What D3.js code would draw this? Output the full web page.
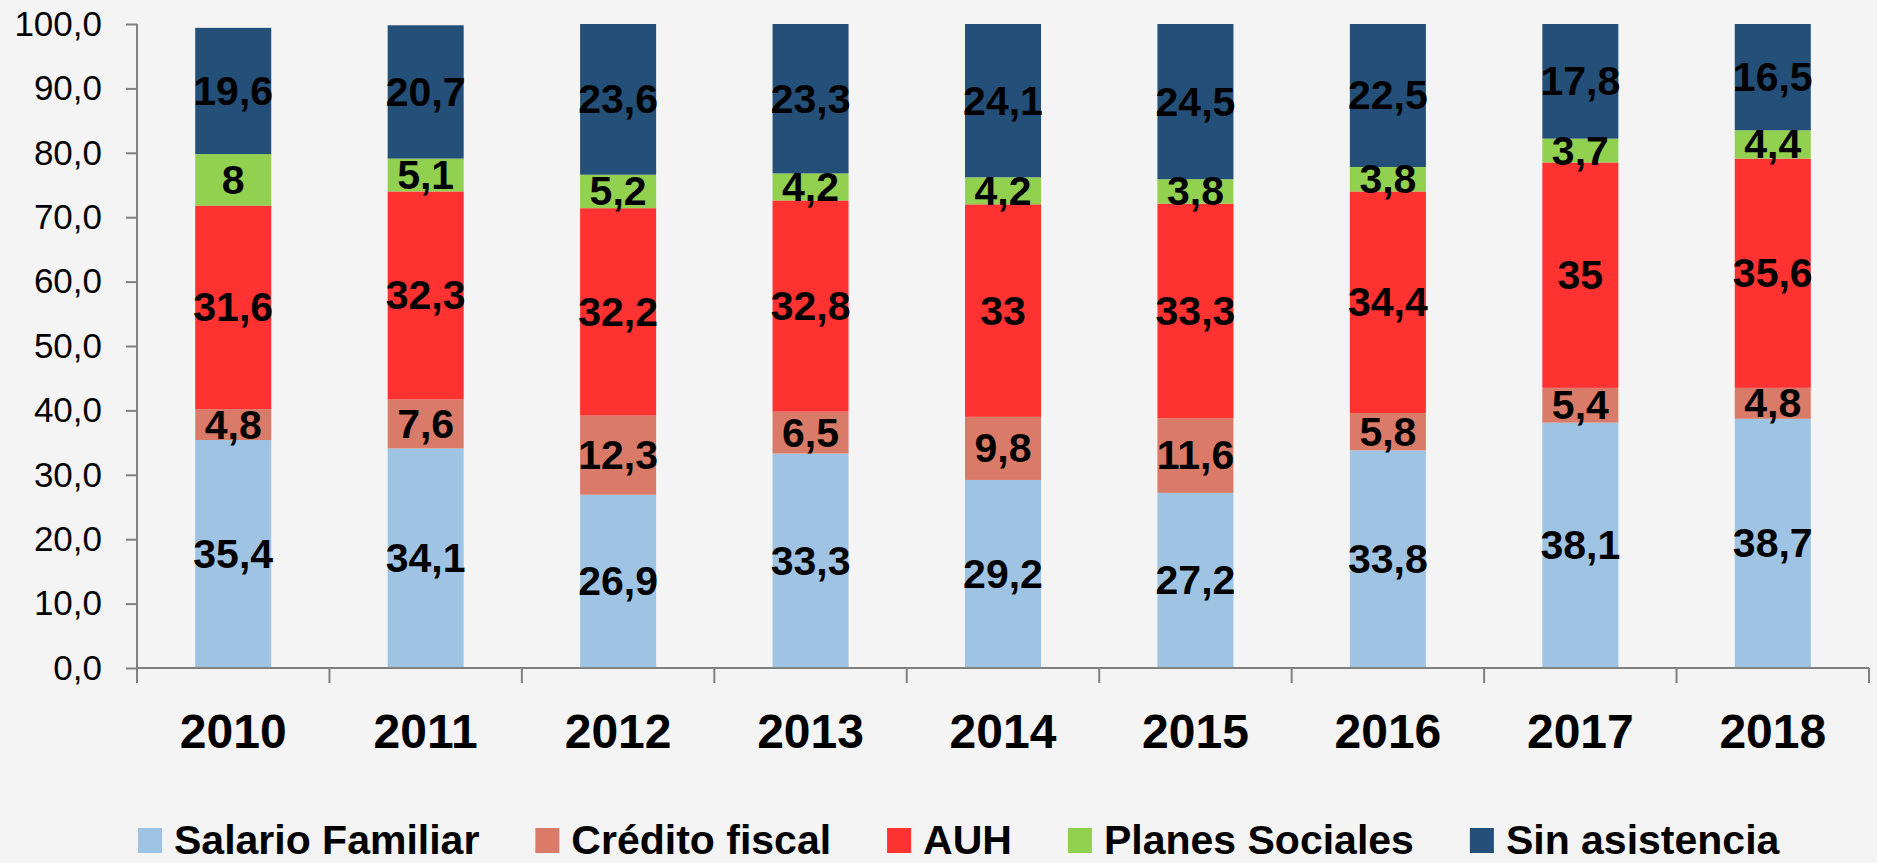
<!DOCTYPE html>
<html>
<head>
<meta charset="utf-8">
<script src="https://cdn.jsdelivr.net/npm/d3@7"></script>
<style>
  html, body { margin: 0; padding: 0; background: #f4f4f4; }
  svg { display: block; }
</style>
</head>
<body>
<div id="chart"></div>
<script>
const years = ["2010", "2011", "2012", "2013", "2014", "2015", "2016", "2017", "2018"];
const seriesNames = ["Salario Familiar", "Crédito fiscal", "AUH", "Planes Sociales", "Sin asistencia"];
const colors = ["#9fc3e3", "#da7b69", "#ff3232", "#92d050", "#234f78"];

const salario   = [35.4, 34.1, 26.9, 33.3, 29.2, 27.2, 33.8, 38.1, 38.7];
const credito   = [4.8, 7.6, 12.3, 6.5, 9.8, 11.6, 5.8, 5.4, 4.8];
const auh       = [31.6, 32.3, 32.2, 32.8, 33, 33.3, 34.4, 35, 35.6];
const planes    = [8, 5.1, 5.2, 4.2, 4.2, 3.8, 3.8, 3.7, 4.4];
const sinAsist  = [19.6, 20.7, 23.6, 23.3, 24.1, 24.5, 22.5, 17.8, 16.5];

const yTicks = [0, 10, 20, 30, 40, 50, 60, 70, 80, 90, 100];

const width = 1877, height = 863;
const margin = { top: 24, right: 8, bottom: 195, left: 137 };

const svg = d3.select("#chart")
  .append("svg")
  .attr("width", width)
  .attr("height", height);

const x = d3.scaleBand()
  .domain(years)
  .range([margin.left, width - margin.right])
  .paddingInner(0.605)
  .paddingOuter(0.3025);

const y = d3.scaleLinear()
  .domain([0, 100])
  .range([height - margin.bottom, margin.top]);

const table = years.map((yr, i) => ({
  year: yr,
  [seriesNames[0]]: salario[i],
  [seriesNames[1]]: credito[i],
  [seriesNames[2]]: auh[i],
  [seriesNames[3]]: planes[i],
  [seriesNames[4]]: sinAsist[i]
}));

const stacked = d3.stack().keys(seriesNames)(table);
const fmt = v => String(v).replace(".", ",");

// bars above 100 are cut at the axis max
svg.append("clipPath").attr("id", "plot")
  .append("rect")
  .attr("x", margin.left).attr("y", y(100))
  .attr("width", width - margin.left - margin.right)
  .attr("height", y(0) - y(100));

const layers = svg.append("g").attr("clip-path", "url(#plot)")
  .selectAll("g")
  .data(stacked)
  .join("g")
  .attr("fill", (d, i) => colors[i]);

layers.selectAll("rect")
  .data(d => d)
  .join("rect")
  .attr("x", d => x(d.data.year))
  .attr("width", x.bandwidth())
  .attr("y", d => y(d[1]))
  .attr("height", d => y(d[0]) - y(d[1]));

// data labels
svg.append("g")
  .selectAll("g")
  .data(stacked)
  .join("g")
  .selectAll("text")
  .data(d => d.map(p => ({ p, key: d.key })))
  .join("text")
  .attr("x", d => x(d.p.data.year) + x.bandwidth() / 2)
  .attr("y", d => y((d.p[0] + Math.min(d.p[1], 100)) / 2))
  .attr("text-anchor", "middle")
  .attr("dominant-baseline", "central")
  .attr("font-family", "Liberation Sans, Arial, sans-serif")
  .attr("font-weight", "bold")
  .attr("font-size", 41)
  .attr("fill", "#000")
  .text(d => fmt(d.p.data[d.key]));

// y axis
const yAxis = svg.append("g")
  .attr("transform", `translate(${margin.left},0)`)
  .call(d3.axisLeft(y).tickValues(yTicks).tickSize(11).tickSizeOuter(0).tickPadding(24)
    .tickFormat(d => d3.format(".1f")(d).replace(".", ",")));
yAxis.select(".domain").attr("stroke", "#808080").attr("stroke-width", 2)
  .attr("d", `M0,${y(100)}V${y(0) + 15}`);
yAxis.selectAll(".tick line").attr("stroke", "#808080").attr("stroke-width", 2);
yAxis.selectAll(".tick text")
  .attr("font-family", "Liberation Sans, Arial, sans-serif")
  .attr("font-size", 35)
  .attr("fill", "#000");

// x axis
const xAxis = svg.append("g")
  .attr("transform", `translate(0,${y(0)})`);
xAxis.append("line")
  .attr("x1", margin.left).attr("x2", width - margin.right)
  .attr("stroke", "#808080").attr("stroke-width", 2);
const step = x.step();
xAxis.selectAll("line.sep")
  .data(d3.range(years.length + 1))
  .join("line")
  .attr("class", "sep")
  .attr("x1", i => margin.left + i * step)
  .attr("x2", i => margin.left + i * step)
  .attr("y1", 0).attr("y2", 15)
  .attr("stroke", "#808080").attr("stroke-width", 2);
xAxis.selectAll("text")
  .data(years)
  .join("text")
  .attr("x", d => x(d) + x.bandwidth() / 2)
  .attr("y", 80)
  .attr("text-anchor", "middle")
  .attr("font-family", "Liberation Sans, Arial, sans-serif")
  .attr("font-weight", "bold")
  .attr("font-size", 48)
  .attr("fill", "#000")
  .text(d => d);

// legend
const legend = svg.append("g").attr("transform", "translate(138,840)");
let lx = 0;
seriesNames.forEach((name, i) => {
  const g = legend.append("g").attr("transform", `translate(${lx},0)`);
  g.append("rect")
    .attr("x", 0).attr("y", -12)
    .attr("width", 24).attr("height", 25)
    .attr("fill", colors[i]);
  const t = g.append("text")
    .attr("x", 36).attr("y", 0)
    .attr("dominant-baseline", "central")
    .attr("font-family", "Liberation Sans, Arial, sans-serif")
    .attr("font-weight", "bold")
    .attr("font-size", 41)
    .attr("fill", "#000")
    .text(name);
  lx += 36 + t.node().getComputedTextLength() + 56;
});
</script>
</body>
</html>
